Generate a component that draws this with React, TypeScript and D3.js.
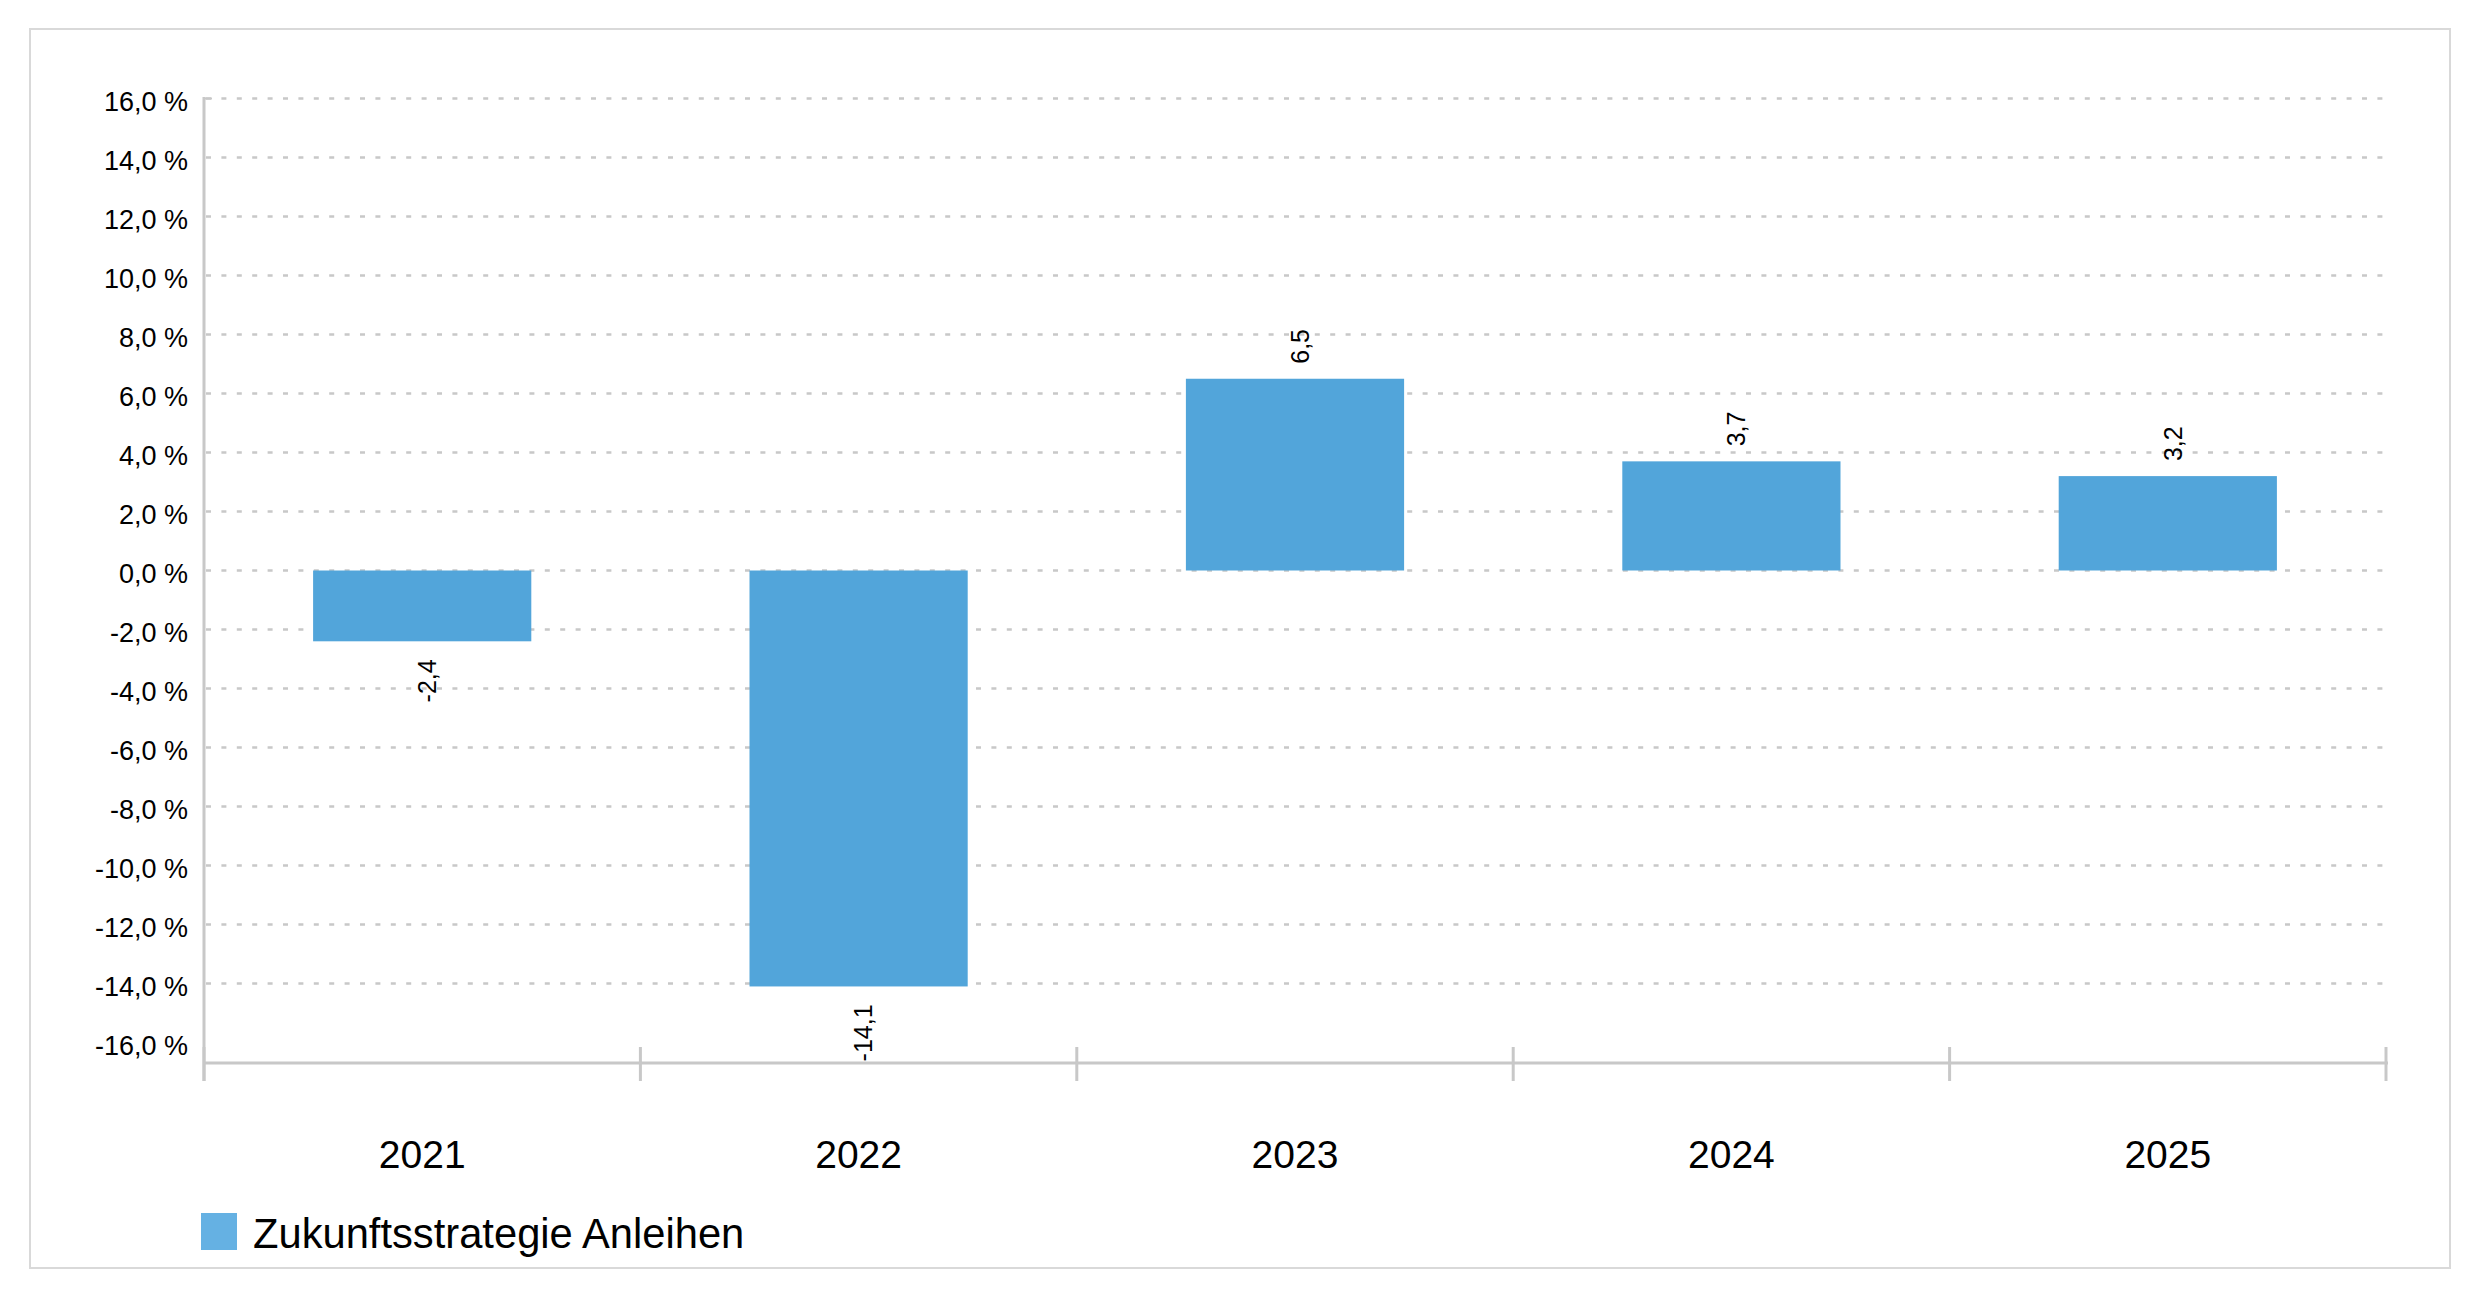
import React from "react";
import * as d3 from "d3";

const categories = ["2021", "2022", "2023", "2024", "2025"];
const values = [-2.4, -14.1, 6.5, 3.7, 3.2];
const seriesName = "Zukunftsstrategie Anleihen";
const yTicks = [16, 14, 12, 10, 8, 6, 4, 2, 0, -2, -4, -6, -8, -10, -12, -14, -16];

const W = 2480;
const H = 1299;
const FONT = "'Liberation Sans', Arial, Helvetica, sans-serif";

export default function App() {
  const x = d3.scaleBand<string>().domain(categories).range([204, 2386]).paddingInner(0).paddingOuter(0);
  const y = d3.scaleLinear().domain([-16, 16]).range([1042.5, 98.5]);
  const bw = x.bandwidth() * 0.5;
  const fmt = (v: number) => d3.format(".1f")(v).replace(".", ",").replace("−", "-");
  const axisY = 1063;
  const boundaries = d3.range(categories.length + 1).map((i) => 204 + i * x.bandwidth());

  return (
    <svg width={W} height={H} style={{ position: "absolute", left: 0, top: 0, background: "#fff" }} fontFamily={FONT}>
      <rect x={30} y={29} width={2420} height={1239} fill="#fff" stroke="#d9d9d9" strokeWidth={2} />
      {/* gridlines */}
      {yTicks.filter((t) => t > -16).map((t) => (
        <line key={"g" + t} x1={206} x2={2384} y1={y(t)} y2={y(t)} stroke="#c8c8c8" strokeWidth={2.5} strokeDasharray="5 10.4" />
      ))}
      {/* y tick labels */}
      {yTicks.map((t) => (
        <text key={"t" + t} x={188} y={y(t) + 3} dy="0.35em" textAnchor="end" fontSize={27} fill="#000">
          {fmt(t) + " %"}
        </text>
      ))}
      {/* bars */}
      {categories.map((c, i) => {
        const v = values[i];
        const cx = (x(c) as number) + x.bandwidth() / 2;
        return (
          <rect key={"b" + c} x={cx - bw / 2} width={bw} y={y(Math.max(0, v))} height={Math.abs(y(v) - y(0))} fill="#52a5da" />
        );
      })}
      {/* axes */}
      <line x1={204} x2={204} y1={97} y2={1081} stroke="#c8c8c8" strokeWidth={3} />
      <line x1={204} x2={212} y1={98.5} y2={98.5} stroke="#c8c8c8" strokeWidth={2} />
      <line x1={204} x2={2388} y1={axisY} y2={axisY} stroke="#c8c8c8" strokeWidth={3} />
      {boundaries.map((bx, i) => (
        <line key={"k" + i} x1={bx} x2={bx} y1={1047} y2={1081} stroke="#c8c8c8" strokeWidth={3} />
      ))}
      {/* value labels */}
      {categories.map((c, i) => {
        const v = values[i];
        const cx = (x(c) as number) + x.bandwidth() / 2 + 5;
        const ly = v >= 0 ? y(v) - 15 : y(v) + 18;
        return (
          <text
            key={"l" + c}
            transform={`translate(${cx},${ly}) rotate(-90)`}
            textAnchor={v >= 0 ? "start" : "end"}
            dy="0.35em"
            fontSize={25}
            fill="#000"
          >
            {fmt(v)}
          </text>
        );
      })}
      {/* x labels */}
      {categories.map((c) => (
        <text key={"x" + c} x={(x(c) as number) + x.bandwidth() / 2} y={1168} textAnchor="middle" fontSize={39} fill="#000">
          {c}
        </text>
      ))}
      {/* legend */}
      <rect x={201} y={1213} width={36} height={37} fill="#65b1e3" />
      <text x={253} y={1248} fontSize={41.7} fill="#000">
        {seriesName}
      </text>
    </svg>
  );
}
